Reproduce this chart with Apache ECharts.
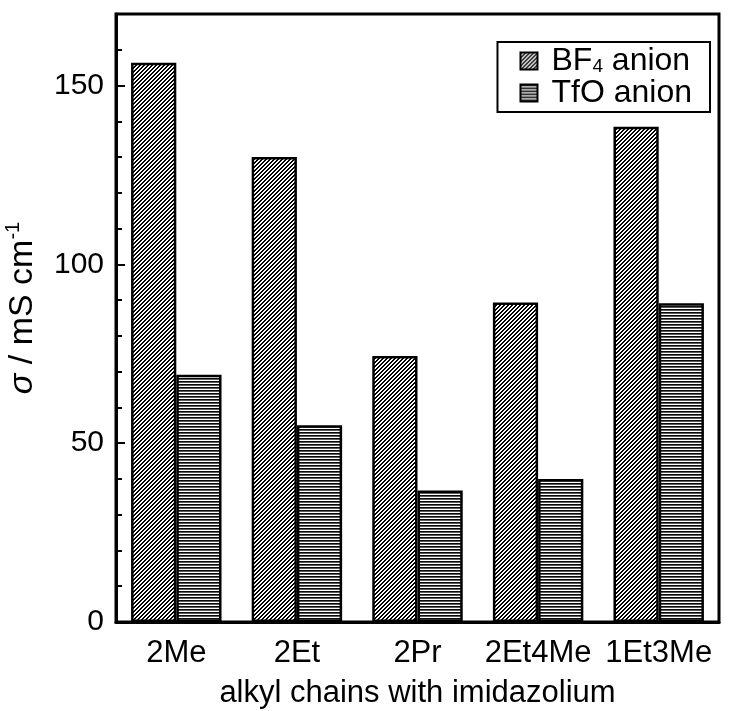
<!DOCTYPE html>
<html>
<head>
<meta charset="utf-8">
<script src="https://cdn.jsdelivr.net/npm/echarts@6/dist/echarts.min.js"></script>
<style>
html,body{margin:0;padding:0;background:#fff;}
#chart{width:732px;height:711px;}
</style>
</head>
<body>
<div id="chart"></div>
<script>
const categories = ['2Me', '2Et', '2Pr', '2Et4Me', '1Et3Me'];
const bf4Values = [156.4, 130, 74.4, 89.3, 138.5];
const tfoValues = [69.1, 55, 36.8, 40, 89.1];
const seriesNames = ['BF4 anion', 'TfO anion'];
const yTicks = [0, 50, 100, 150];

function makePattern(w, h, fn) {
  const c = document.createElement('canvas');
  c.width = w; c.height = h;
  const ctx = c.getContext('2d');
  const img = ctx.createImageData(w, h);
  for (let y = 0; y < h; y++) {
    for (let x = 0; x < w; x++) {
      const v = fn(x, y);
      const i = (y * w + x) * 4;
      img.data[i] = v; img.data[i+1] = v; img.data[i+2] = v; img.data[i+3] = 255;
    }
  }
  ctx.putImageData(img, 0, 0);
  return c;
}
const diag = makePattern(4, 4, (x, y) => ((x + y) % 4 < 2 ? 0 : 255));
const horiz = makePattern(1, 3, (x, y) => [10, 90, 255][y]);

const FONT = '"Liberation Sans", Arial, sans-serif';
const chart = echarts.init(document.getElementById('chart'), null, {renderer: 'canvas'});
chart.setOption({
  animation: false,
  backgroundColor: '#fff',
  textStyle: {fontFamily: FONT},
  grid: {left: 116, right: 13, top: 14, bottom: 89, containLabel: false, outerBoundsMode: 'none',
         show: true, borderColor: '#000', borderWidth: 3, backgroundColor: 'transparent'},
  legend: {
    orient: 'vertical',
    right: 22, top: 42,
    itemWidth: 17, itemHeight: 17, itemGap: 0,
    padding: [3, 18, 3, 22],
    borderColor: '#000', borderWidth: 2,
    icon: 'rect',
    formatter: function (name) {
      return name === 'BF4 anion' ? 'BF{sub|4} anion' : 'TfO anion';
    },
    textStyle: {
      fontFamily: FONT, fontSize: 32, color: '#000', lineHeight: 30, padding: [0, 0, 0, 9],
      rich: {sub: {fontSize: 19, lineHeight: 19, verticalAlign: 'bottom', fontFamily: FONT, color: '#000'}}
    }
  },
  xAxis: {
    type: 'category',
    data: categories,
    name: 'alkyl chains with imidazolium',
    nameLocation: 'middle',
    nameGap: 56,
    nameTextStyle: {fontFamily: FONT, fontSize: 31, color: '#000'},
    axisLine: {lineStyle: {color: '#000', width: 3}},
    axisTick: {show: false},
    axisLabel: {fontFamily: FONT, fontSize: 31, color: '#000', margin: 16, interval: 0}
  },
  yAxis: {
    type: 'value',
    min: 0, max: 170, interval: 50,
    name: '{i|σ} / mS cm{s|-1}',
    nameLocation: 'middle',
    nameGap: 68,
    nameRotate: 90,
    nameTextStyle: {
      fontFamily: FONT, fontSize: 34, color: '#000', lineHeight: 40, padding: [0, 0, 0, 20],
      rich: {
        i: {fontStyle: 'italic', fontFamily: FONT, fontSize: 34, color: '#000'},
        s: {fontSize: 20, lineHeight: 20, verticalAlign: 'top', fontFamily: FONT, color: '#000'}
      }
    },
    axisLine: {show: true, lineStyle: {color: '#000', width: 3}},
    axisTick: {show: true, inside: true, length: 9, lineStyle: {color: '#000', width: 2}},
    minorTick: {show: true, splitNumber: 5, length: 6, lineStyle: {color: '#000', width: 2}},
    splitLine: {show: false},
    axisLabel: {
      fontFamily: FONT, fontSize: 30, color: '#000', margin: 12,
      formatter: function (v) { return yTicks.indexOf(v) >= 0 ? String(v) : ''; }
    }
  },
  series: [
    {
      name: seriesNames[0], type: 'bar', data: bf4Values,
      barGap: '0%', barCategoryGap: '25%',
      itemStyle: {color: {image: diag, repeat: 'repeat'}, borderColor: '#000', borderWidth: 2.5}
    },
    {
      name: seriesNames[1], type: 'bar', data: tfoValues,
      barGap: '0%', barCategoryGap: '25%',
      itemStyle: {color: {image: horiz, repeat: 'repeat'}, borderColor: '#000', borderWidth: 2.5}
    }
  ]
});
</script>
</body>
</html>
